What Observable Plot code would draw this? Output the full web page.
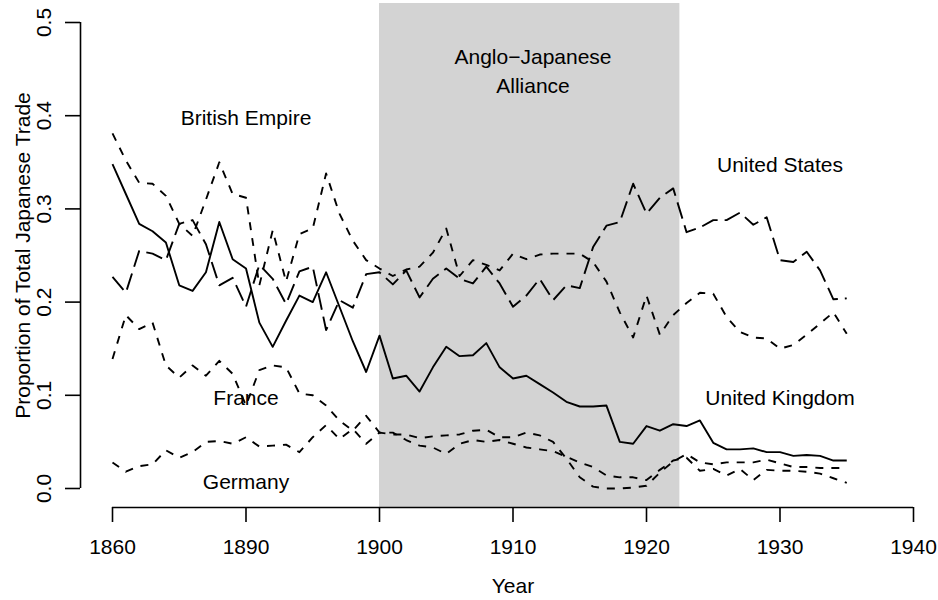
<!DOCTYPE html>
<html><head><meta charset="utf-8">
<script src="https://cdn.jsdelivr.net/npm/d3@7"></script>
<script src="https://cdn.jsdelivr.net/npm/@observablehq/plot@0.6"></script>
<style>
html,body{margin:0;padding:0;background:#fff;}
#chart svg{display:block;}
</style></head><body><div id="chart"></div>
<script>
const years = [1880,1881,1882,1883,1884,1885,1886,1887,1888,1889,
  1890,1891,1892,1893,1894,1895,1896,1897,1898,1899,
  1900,1901,1902,1903,1904,1905,1906,1907,1908,1909,
  1910,1911,1912,1913,1914,1915,1916,1917,1918,1919,
  1920,1921,1922,1923,1924,1925,1926,1927,1928,1929,
  1930,1931,1932,1933,1934,1935];

const unitedKingdom = [0.348,0.316,0.284,0.276,0.264,0.218,0.212,0.232,0.286,0.246,
  0.236,0.178,0.152,0.180,0.207,0.200,0.232,0.195,0.158,0.125,
  0.164,0.118,0.121,0.104,0.130,0.152,0.142,0.143,0.156,0.130,
  0.118,0.121,0.112,0.103,0.093,0.088,0.088,0.089,0.050,0.048,
  0.067,0.062,0.069,0.067,0.073,0.049,0.042,0.042,0.043,0.039,
  0.039,0.035,0.036,0.035,0.030,0.030];

const britishEmpire = [0.381,0.352,0.328,0.327,0.314,0.284,0.271,0.310,0.350,0.316,
  0.312,0.218,0.277,0.222,0.273,0.279,0.338,0.295,0.266,0.245,
  0.236,0.228,0.235,0.238,0.253,0.279,0.228,0.245,0.240,0.234,
  0.252,0.246,0.251,0.252,0.252,0.252,0.243,0.222,0.189,0.162,
  0.207,0.165,0.186,0.199,0.210,0.209,0.184,0.168,0.162,0.161,
  0.150,0.154,0.165,0.177,0.189,0.166];

const unitedStates = [0.227,0.210,0.255,0.252,0.245,0.284,0.288,0.262,0.218,0.226,
  0.195,0.240,0.225,0.198,0.233,0.238,0.170,0.202,0.194,0.230,
  0.232,0.219,0.234,0.205,0.225,0.236,0.225,0.220,0.238,0.220,
  0.195,0.207,0.225,0.202,0.218,0.215,0.259,0.282,0.286,0.327,
  0.295,0.312,0.322,0.275,0.280,0.288,0.288,0.296,0.283,0.291,
  0.245,0.243,0.254,0.234,0.203,0.204];

const france = [0.139,0.186,0.171,0.178,0.132,0.119,0.132,0.121,0.137,0.123,
  0.089,0.127,0.132,0.130,0.102,0.100,0.089,0.073,0.062,0.078,
  0.060,0.060,0.052,0.046,0.044,0.037,0.048,0.052,0.050,0.052,
  0.048,0.044,0.042,0.040,0.034,0.028,0.023,0.014,0.012,0.012,
  0.009,0.020,0.030,0.033,0.019,0.021,0.014,0.021,0.009,0.020,
  0.019,0.019,0.018,0.016,0.011,0.006];

const germany = [0.028,0.018,0.024,0.026,0.041,0.033,0.039,0.050,0.051,0.048,
  0.055,0.045,0.046,0.047,0.039,0.055,0.068,0.053,0.064,0.048,
  0.060,0.058,0.058,0.054,0.056,0.057,0.058,0.062,0.063,0.055,
  0.055,0.060,0.057,0.050,0.032,0.012,0.002,0.000,0.000,0.001,
  0.003,0.017,0.029,0.037,0.028,0.026,0.028,0.028,0.028,0.031,
  0.027,0.023,0.023,0.022,0.022,0.022];

const xTicks = [1880,1890,1900,1910,1920,1930,1940];
const xTickLabels = ["1860","1890","1900","1910","1920","1930","1940"];
const yTicks = [0,0.1,0.2,0.3,0.4,0.5];
const alliancePeriod = [1900,1922.5];

const labelNames = ["British Empire","Anglo\u2212Japanese\nAlliance","United States","United Kingdom","France","Germany"];
const labelX = [1890,1911.5,1930,1930,1890,1890];
const labelY = [0.40,0.45,0.35,0.10,0.10,0.01];

const xTitle = "Year";
const yTitle = "Proportion of Total Japanese Trade";

// styles (not data)
const FONT = "'Liberation Sans', Arial, Helvetica, sans-serif";
const FS = 21;
const LW = 1.9;
const seriesDefs = [
  {values: britishEmpire, dash: "8,8"},
  {values: unitedStates, dash: "17,7"},
  {values: unitedKingdom, dash: null},
  {values: france, dash: "8,8"},
  {values: germany, dash: "8,8"}
];

const labels = labelNames.map((t, i) => ({text: t, x: labelX[i], y: labelY[i]}));

const lineMarks = seriesDefs.map(s => {
  const rows = years.map((yr, i) => ({year: yr, value: s.values[i]}));
  const opts = {x: "year", y: "value", stroke: "black", strokeWidth: LW, strokeLinejoin: "round", strokeLinecap: "butt"};
  if (s.dash) opts.strokeDasharray = s.dash;
  return Plot.line(rows, opts);
});

const axisOffsetX = -32; // y axis line sits left of the first tick (R's 4% padding)
const axisOffsetY = 19;  // x axis line sits below y = 0

const chart = Plot.plot({
  width: 938,
  height: 600,
  marginLeft: 112,
  marginRight: 25,
  marginTop: 22,
  marginBottom: 112,
  style: {fontFamily: FONT, fontSize: FS + "px", background: "white", color: "black"},
  x: {domain: [xTicks[0], xTicks[xTicks.length - 1]], axis: null},
  y: {domain: [yTicks[0], yTicks[yTicks.length - 1]], axis: null},
  marks: [
    Plot.rect([alliancePeriod], {
      x1: d => d[0], x2: d => d[1],
      y1: () => yTicks[0], y2: () => yTicks[yTicks.length - 1],
      fill: "#d3d3d3", insetTop: -axisOffsetY, insetBottom: -axisOffsetY
    }),
    ...lineMarks,
    Plot.text(labels, {x: "x", y: "y", text: "text", fontSize: FS, fontFamily: FONT, fill: "black", lineHeight: 1.4}),
    // y axis
    Plot.ruleX([xTicks[0]], {y1: yTicks[0], y2: yTicks[yTicks.length - 1], dx: axisOffsetX, stroke: "black", strokeWidth: 1.6}),
    Plot.axisY({ticks: yTicks, tickFormat: d3.format(".1f"), tickSize: 15, tickPadding: 15, tickRotate: -90,
      dx: axisOffsetX, label: null, fontSize: FS, strokeWidth: 1.6}),
    // x axis
    Plot.ruleY([yTicks[0]], {x1: xTicks[0], x2: xTicks[xTicks.length - 1], dy: axisOffsetY, stroke: "black", strokeWidth: 1.6}),
    Plot.axisX({ticks: xTicks, tickFormat: (d, i) => xTickLabels[i], tickSize: 15, tickPadding: 17,
      dy: axisOffsetY, label: null, fontSize: FS, strokeWidth: 1.6}),
    // axis titles
    Plot.text([xTitle], {frameAnchor: "bottom", dy: 104, fontSize: FS, fontFamily: FONT, fill: "black"}),
    Plot.text([yTitle], {frameAnchor: "left", textAnchor: "middle", dx: -89, rotate: -90, fontSize: FS, fontFamily: FONT, fill: "black"})
  ]
});
document.getElementById("chart").appendChild(chart);
</script>
</body></html>
